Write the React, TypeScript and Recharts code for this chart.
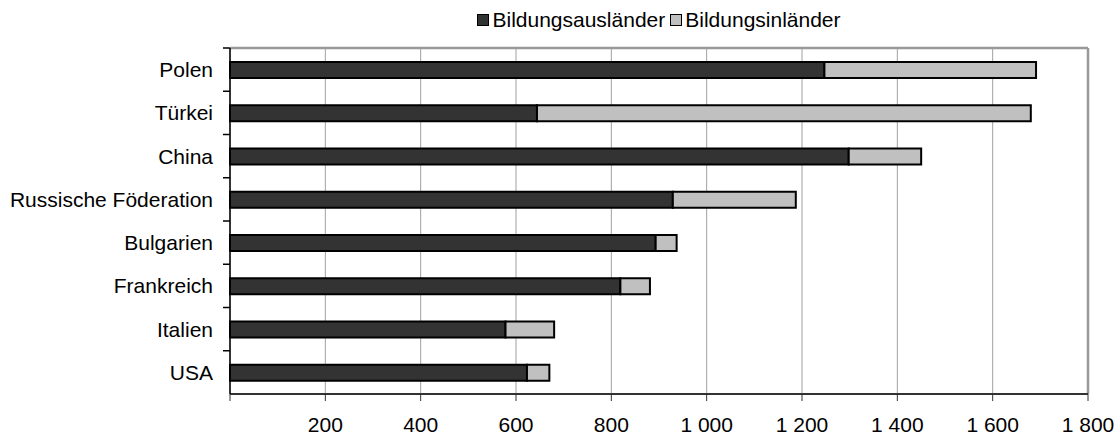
import React from "react";
import {
  BarChart,
  Bar,
  XAxis,
  YAxis,
  CartesianGrid,
} from "recharts";

const countries = [
  "Polen",
  "Türkei",
  "China",
  "Russische Föderation",
  "Bulgarien",
  "Frankreich",
  "Italien",
  "USA",
];
const auslaender = [1247, 644, 1298, 929, 893, 819, 578, 623];
const inlaender = [444, 1036, 152, 258, 44, 62, 102, 47];
const xTicks = [0, 200, 400, 600, 800, 1000, 1200, 1400, 1600, 1800];

const seriesNames = ["Bildungsausländer", "Bildungsinländer"];
const darkFill = "#333333";
const lightFill = "#c0c0c0";

const data = countries.map((name, i) => ({
  name,
  aus: auslaender[i],
  inl: inlaender[i],
}));

const W = 1118;
const H = 437;
const TOP = 48;
const RIGHT = 30;
const XAXIS_H = 43;
const band = (H - TOP - XAXIS_H) / countries.length;
const font = "'Liberation Sans', Arial, sans-serif";
const FS = 21;

const fmt = (v: number) =>
  v === 0 ? "" : String(v).replace(/\B(?=(\d{3})+(?!\d))/g, " ");

const CountryTick = (props: any) => {
  const { x, y, payload } = props;
  return (
    <g>
      <text
        x={x}
        y={y}
        dy="0.355em"
        textAnchor="end"
        fill="#000"
        fontSize={FS}
        fontFamily={font}
      >
        {payload.value}
      </text>
      <line
        x1={x + 10}
        x2={x + 17}
        y1={y - band / 2}
        y2={y - band / 2}
        stroke="#000"
        strokeWidth={1.5}
      />
    </g>
  );
};

const LegendBox = () => (
  <div
    style={{
      position: "absolute",
      top: 9,
      left: 230,
      width: W - 230 - RIGHT,
      display: "flex",
      justifyContent: "center",
      fontFamily: font,
      fontSize: FS,
      lineHeight: "21px",
      color: "#000",
    }}
  >
    {seriesNames.map((n, i) => (
      <div
        key={n}
        style={{ display: "flex", alignItems: "center", marginRight: i === 0 ? 5 : 0 }}
      >
        <span
          style={{
            display: "inline-block",
            width: 10,
            height: 10,
            border: "1px solid #000",
            background: i === 0 ? darkFill : lightFill,
            marginRight: 3,
          }}
        />
        <span>{n}</span>
      </div>
    ))}
  </div>
);

export default function App() {
  return (
    <div style={{ position: "absolute", left: 0, top: 0, width: W, height: H, background: "#fff" }}>
      <BarChart
        width={W}
        height={H}
        data={data}
        layout="vertical"
        margin={{ top: TOP, right: RIGHT, left: 0, bottom: 0 }}
        barSize={16}
      >
        <CartesianGrid horizontal={false} stroke="#a0a0a0" strokeWidth={1} />
        <CartesianGrid
          horizontalPoints={[TOP]}
          verticalPoints={[W - RIGHT]}
          stroke="#999"
          strokeWidth={2.5}
        />
        <XAxis
          type="number"
          domain={[0, 1800]}
          ticks={xTicks}
          tickFormatter={fmt}
          height={XAXIS_H}
          tickSize={7}
          tickMargin={16}
          axisLine={{ stroke: "#333", strokeWidth: 2 }}
          tickLine={{ stroke: "#333" }}
          tick={{ fill: "#000", fontSize: FS, fontFamily: font }}
          interval={0}
        />
        <YAxis
          type="category"
          dataKey="name"
          width={230}
          tickSize={6}
          tickMargin={11}
          tickLine={false}
          axisLine={{ stroke: "#000", strokeWidth: 1.5 }}
          tick={<CountryTick />}
          interval={0}
        />
        <Bar
          dataKey="aus"
          stackId="a"
          fill={darkFill}
          stroke="#000"
          strokeWidth={2}
          isAnimationActive={false}
        />
        <Bar
          dataKey="inl"
          stackId="a"
          fill={lightFill}
          stroke="#000"
          strokeWidth={2}
          isAnimationActive={false}
        />
      </BarChart>
      <LegendBox />
    </div>
  );
}
